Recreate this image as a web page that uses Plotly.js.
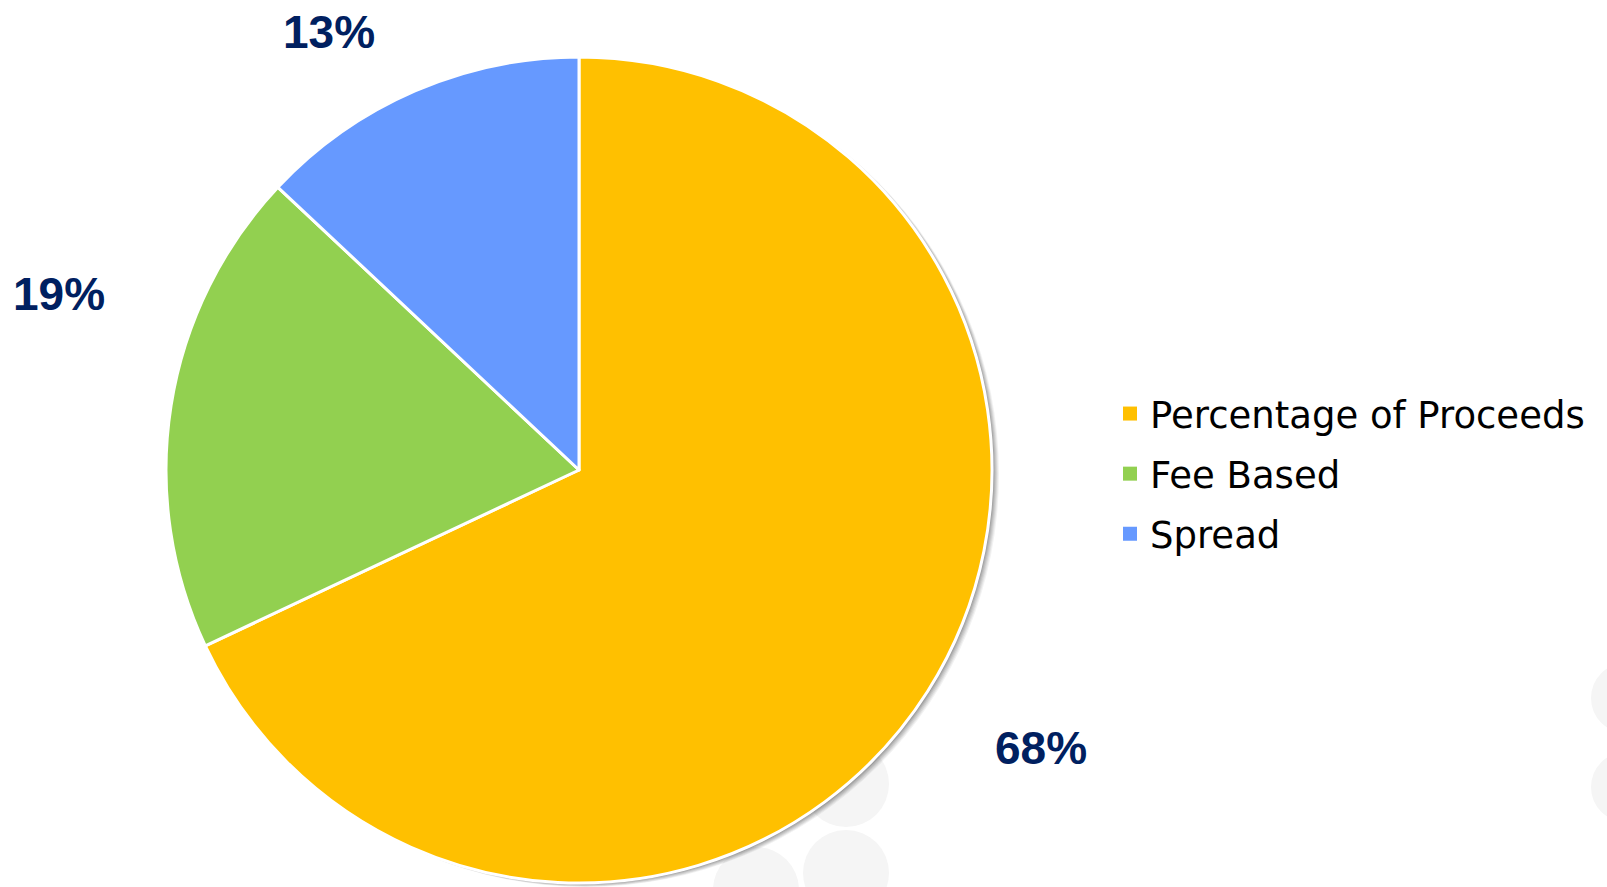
<!DOCTYPE html>
<html>
<head>
<meta charset="utf-8">
<script src="https://cdn.plot.ly/plotly-3.0.1.min.js"></script>
<style>html,body{margin:0;padding:0;background:#fff;}#chart{width:1607px;height:887px;}</style>
</head>
<body>
<div id="chart"></div>
<script>
// ---- data ----
var categories = ['Percentage of Proceeds', 'Fee Based', 'Spread'];
var shares = [68, 19, 13];
var sliceColors = ['#FFC000', '#92D050', '#6699FF'];

// ---- layout helpers (pixels -> paper) ----
var W = 1607, H = 887;
function px(x) { return x / W; }
function py(y) { return 1 - y / H; }

var cx = 579, cy = 470, R = 413;
function pieDomain(dx, dy) {
  return { x: [px(cx - R + dx), px(cx + R + dx)], y: [py(cy + R + dy), py(cy - R + dy)] };
}

var total = shares.reduce(function (a, b) { return a + b; }, 0);
var traces = [];

// soft drop shadow (decoration)
[[7, 0.05], [6, 0.06], [5, 0.07], [4, 0.08], [3, 0.09], [2, 0.10]].forEach(function (s) {
  traces.push({
    type: 'pie', values: [total], labels: ['shadow'], sort: false,
    marker: { colors: ['rgba(0,0,0,' + s[1] + ')'], line: { width: 0 } },
    textinfo: 'none', hoverinfo: 'skip', showlegend: false,
    domain: pieDomain(s[0], s[0] * 0.6)
  });
});

// main pie
traces.push({
  type: 'pie', labels: categories, values: shares, sort: false,
  direction: 'clockwise', rotation: 0,
  marker: { colors: sliceColors, line: { color: '#ffffff', width: 3 } },
  textinfo: 'none', hoverinfo: 'label+percent', showlegend: false,
  domain: pieDomain(0, 0)
});

// legend entries
categories.forEach(function (c, i) {
  traces.push({
    type: 'scatter', mode: 'markers', x: [null], y: [null], name: c,
    legendgroup: 'g' + i, hoverinfo: 'skip',
    marker: { symbol: 'square', size: 14, color: sliceColors[i] }
  });
});

// data label anchors (pixel positions of label centres)
var labelAnchors = [[1041, 748], [59, 294], [329, 32]];
var annotations = shares.map(function (v, i) {
  return {
    xref: 'paper', yref: 'paper', x: px(labelAnchors[i][0]), y: py(labelAnchors[i][1]),
    xanchor: 'center', yanchor: 'middle', showarrow: false, text: v + '%',
    font: { family: 'Liberation Sans Narrow, Arial Narrow, Liberation Sans, Arial, sans-serif', size: 46, color: '#002060', weight: 'bold' }
  };
});

// faint background circles (decoration)
var circles = [[846, 784, 43], [846, 873, 43], [756, 890, 43], [1626, 698, 35], [1626, 787, 35]];
var shapes = circles.map(function (c) {
  return {
    type: 'circle', xref: 'paper', yref: 'paper', layer: 'below',
    x0: px(c[0] - c[2]), x1: px(c[0] + c[2]), y0: py(c[1] + c[2]), y1: py(c[1] - c[2]),
    fillcolor: '#f5f5f5', line: { width: 0 }
  };
});

var layout = {
  width: W, height: H,
  margin: { l: 0, r: 0, t: 0, b: 0 },
  paper_bgcolor: '#ffffff', plot_bgcolor: 'rgba(0,0,0,0)',
  xaxis: { visible: false }, yaxis: { visible: false },
  showlegend: true,
  legend: {
    x: px(1110), y: py(474), xanchor: 'left', yanchor: 'middle',
    font: { family: 'Century Gothic, DejaVu Sans, sans-serif', size: 37, color: '#000000' },
    tracegroupgap: 9, bgcolor: 'rgba(0,0,0,0)', traceorder: 'grouped'
  },
  annotations: annotations,
  shapes: shapes
};

Plotly.newPlot('chart', traces, layout, { displayModeBar: false, staticPlot: true });
</script>
</body>
</html>
